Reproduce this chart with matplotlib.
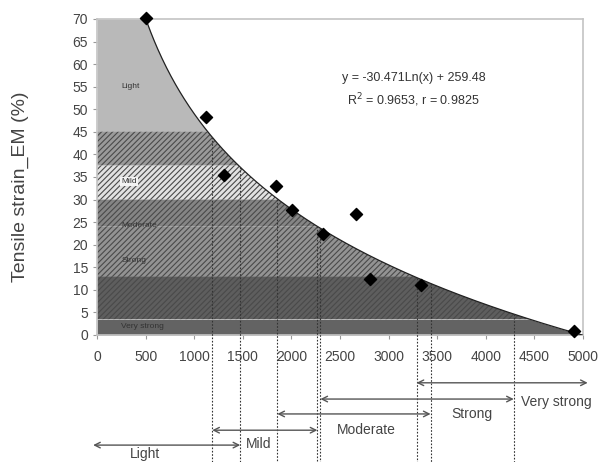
import numpy as np
import matplotlib
matplotlib.use("Agg")
import matplotlib.pyplot as plt

plt.rcParams['font.family'] = ['Liberation Sans', 'DejaVu Sans']
plt.rcParams['hatch.linewidth'] = 0.8

xs = [505, 1124, 1309, 1845, 2010, 2330, 2670, 2814, 3330, 4907]
ys = [70.2, 48.3, 35.5, 33.0, 27.7, 22.4, 26.8, 12.4, 11.0, 0.9]

# trend line y = a*ln(x) + b
a, b = -30.471, 259.48
eq_text = "y = -30.471Ln(x) + 259.48"
r_text = "R$^2$ = 0.9653, r = 0.9825"

# horizontal bands: (low, high, face colour, hatch)
bands = [
    (45.0, 70.0, '#b9b9b9', None),
    (37.5, 45.0, '#9a9a9a', '//////'),
    (30.0, 37.5, '#e2e2e2', '//////'),
    (24.0, 30.0, '#858585', '//////'),
    (13.0, 24.0, '#939393', '//////'),
    (3.5, 13.0, '#5e5e5e', '//////'),
    (0.0, 3.5, '#636363', None),
]
band_labels = ['Light', 'Mild', 'Moderate', 'Strong', 'Very strong']
band_label_y = [55, 34, 24.3, 16.5, 1.8]
band_lines = [45, 30, 24, 13]

# vertical dotted lines at the class limits
vlines_x = [1186, 1474, 1856, 2268, 2299, 3289, 3433, 4289]

# class ranges drawn as arrows under the axis
cls_names = ['Very strong', 'Strong', 'Moderate', 'Mild', 'Light']
cls_start = [3289, 2299, 1856, 1186, -40]
cls_end = [5050, 4289, 3433, 2268, 1474]
cls_arrow_y = [-10.6, -14.2, -17.5, -21.1, -24.4]
cls_text_x = [4732, 3856, 2773, 1660, 495]
cls_text_y = [-14.9, -17.6, -21.1, -24.2, -26.4]

fig = plt.figure(figsize=(5.99, 4.62), dpi=100)
ax = fig.add_axes([0.162, 0.275, 0.811, 0.684])

xx = np.linspace(1, 5000, 2000)
curve = a * np.log(xx) + b

for lo, hi, fc, hatch in bands:
    top = np.minimum(curve, hi)
    ax.fill_between(xx, lo, top, where=top > lo, facecolor=fc, hatch=hatch,
                    edgecolor='#4a4a4a' if hatch else fc, linewidth=0, zorder=1)

for yl in band_lines:
    xe = np.exp((b - yl) / a)
    ax.plot([0, xe], [yl, yl], color='#333333', lw=0.8, zorder=2)

xc = np.linspace(480, 4993, 500)
ax.plot(xc, a * np.log(xc) + b, color='#222222', lw=0.9, zorder=3)

for lab, yy in zip(band_labels, band_label_y):
    bb = None
    if lab == 'Mild':
        bb = dict(boxstyle='square,pad=0.1', fc='#f2f2f2', ec='none')
    ax.text(250, yy, lab, fontsize=6, color='#333333', va='center', zorder=4, bbox=bb)

ax.scatter(xs, ys, marker='D', s=38, color='black', zorder=5, clip_on=False)

ax.text(3258, 57, eq_text, fontsize=9, color='#333333', ha='center', va='center')
ax.text(3258, 52, r_text, fontsize=9, color='#333333', ha='center', va='center')

for xv in vlines_x:
    ax.plot([xv, xv], [a * np.log(xv) + b, -28.5], color='#333333', lw=0.8,
            ls=(0, (1.5, 1.5)), clip_on=False, zorder=3)

for name, s, e, ya, tx, ty in zip(cls_names, cls_start, cls_end, cls_arrow_y,
                                    cls_text_x, cls_text_y):
    ax.annotate('', xy=(e, ya), xytext=(s, ya), annotation_clip=False,
                arrowprops=dict(arrowstyle='<->', color='#555555', lw=1.0,
                                shrinkA=0, shrinkB=0))
    ax.text(tx, ty, name, fontsize=10, color='#444444', ha='center',
            va='center', clip_on=False)

ax.set_xlim(0, 5000)
ax.set_ylim(0, 70)
ax.set_xticks(np.arange(0, 5001, 500))
ax.set_yticks(np.arange(0, 71, 5))
ax.tick_params(axis='both', labelsize=10, labelcolor='#444444', color='#999999',
               length=3, direction='out')
ax.tick_params(axis='x', pad=8)
ax.set_ylabel('Tensile strain_EM (%)', fontsize=14, color='#444444')
ax.yaxis.set_label_coords(-0.14, 0.47)
for sp in ax.spines.values():
    sp.set_color('#c4c4c4')
    sp.set_linewidth(1.2)

fig.savefig('out.png', dpi=100)
